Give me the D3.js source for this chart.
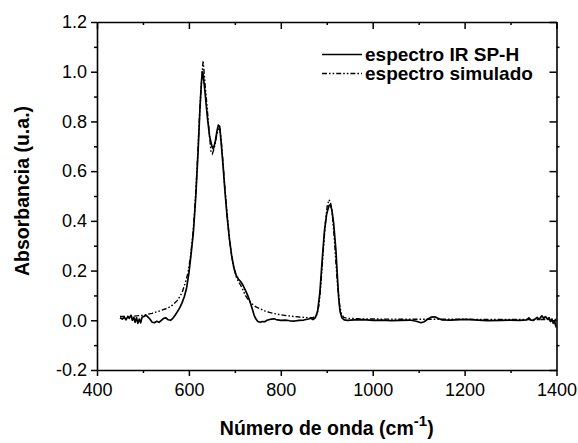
<!DOCTYPE html>
<html>
  <head>
    <meta charset="utf-8">
    <title>Espectro IR SP-H</title>
    <script src="https://cdn.jsdelivr.net/npm/d3@7"></script>
    <style type="text/css">
        body { margin: 0; background: #fff; }
        svg { display: block; font-family: "Liberation Sans", Arial, sans-serif; }
        .tick-label { font-size: 18px; fill: #000; font-family: "Liberation Sans", Arial, sans-serif; }
        .title { font-size: 19.5px; font-weight: bold; fill: #000; }
        .legend { font-size: 19px; font-weight: bold; fill: #000; }
    </style>
  </head>
  <body>
    <div id="viz"></div>
    <script type="text/javascript">
        var irWave = [450,455,460,463,467,470,474,477,480,483,486,489,492,495,498,502,506,510,515,520,
            525,530,535,540,545,550,555,560,565,570,575,580,585,590,595,600,605,610,615,620,
            624,627,629,631,635,640,645,650,653,657,661,664,667,670,674,678,683,688,693,698,
            703,708,713,718,723,728,733,738,742,746,750,755,760,765,770,780,785,790,800,810,
            820,830,840,850,860,865,870,875,880,885,890,895,900,905,908,911,915,920,923,926,
            929,933,938,945,960,980,1000,1020,1040,1060,1080,1095,1105,1112,1120,1128,1135,1142,1150,1170,
            1200,1220,1250,1280,1300,1320,1335,1340,1343,1350,1358,1362,1368,1372,1376,1380,1384,1387,1390,1393,
            1396,1398,1400];
        var irAbs = [0.01,0.005,0.012,0.002,0.015,0.008,0.02,0.0,0.012,-0.008,0.01,-0.012,0.005,-0.01,0.012,0.015,0.02,0.015,0.005,-0.008,
            -0.01,-0.004,-0.008,0.0,0.008,0.01,0.002,0.0,0.008,0.02,0.035,0.05,0.07,0.095,0.13,0.19,0.27,0.36,0.5,0.68,
            0.85,0.95,1.0,0.99,0.92,0.82,0.74,0.70,0.69,0.715,0.76,0.785,0.78,0.72,0.63,0.53,0.42,0.33,0.26,0.21,
            0.18,0.165,0.155,0.14,0.12,0.1,0.075,0.045,0.02,0.005,-0.005,-0.008,-0.005,-0.006,0.0,0.005,0.006,0.003,0.0,0.001,
            -0.002,-0.003,0.0,0.001,0.005,0.008,0.003,0.01,0.035,0.11,0.24,0.36,0.43,0.462,0.465,0.445,0.39,0.28,0.18,0.09,
            0.035,0.01,0.002,0.0,0.002,0.003,0.0,0.001,-0.001,0.0,0.001,-0.004,-0.01,-0.006,0.005,0.013,0.014,0.008,0.002,0.001,
            0.004,0.002,-0.001,0.0,0.001,0.0,0.002,0.01,0.002,0.0,0.012,0.003,0.018,0.008,0.015,0.005,0.01,-0.005,0.005,-0.012,
            -0.005,-0.02,-0.03];

        // simulated spectrum
        var simWave = [450,470,500,520,540,555,565,575,585,592,598,603,608,613,618,622,626,629,631,633,
            636,640,644,648,651,655,660,664,667,670,674,678,683,688,693,698,703,708,713,718,
            723,730,738,745,755,765,775,785,800,820,840,856,870,878,883,887,892,897,901,905,
            908,912,916,920,924,928,932,937,945,970,1000,1100,1200,1300,1400];
        var simAbs = [0.015,0.015,0.02,0.028,0.04,0.05,0.062,0.08,0.11,0.15,0.19,0.25,0.33,0.45,0.62,0.78,0.92,1.0,1.045,1.0,
            0.93,0.85,0.76,0.68,0.67,0.69,0.74,0.77,0.775,0.73,0.64,0.54,0.43,0.33,0.26,0.21,0.175,0.155,0.14,0.12,
            0.1,0.08,0.065,0.055,0.046,0.038,0.032,0.027,0.022,0.017,0.013,0.011,0.01,0.02,0.06,0.14,0.27,0.39,0.46,0.485,
            0.475,0.43,0.34,0.23,0.13,0.06,0.025,0.012,0.008,0.006,0.005,0.004,0.004,0.003,0.003];

        var xTicks = [400, 600, 800, 1000, 1200, 1400];
        var yTicks = [-0.2, 0.0, 0.2, 0.4, 0.6, 0.8, 1.0, 1.2];
        var seriesNames = ["espectro IR SP-H", "espectro simulado"];

        var width = 578, height = 443;
        var margin = {left: 97, top: 22, right: 578 - 556.5, bottom: 443 - 370};

        var svg = d3.select("#viz").append("svg")
            .attr("width", width)
            .attr("height", height);

        var x = d3.scaleLinear().domain([400, 1400]).range([margin.left, width - margin.right]);
        var y = d3.scaleLinear().domain([-0.2, 1.2]).range([height - margin.bottom, margin.top]);

        // minor ticks halfway between the labelled ones
        var xMinor = [500, 700, 900, 1100, 1300];
        var yMinor = [-0.1, 0.1, 0.3, 0.5, 0.7, 0.9, 1.1];

        function fmtY(d) { return d3.format(".1f")(d).replace("\u2212", "-"); }

        // left axis: ticks point outward
        var leftAxis = svg.append("g").attr("transform", "translate(" + x.range()[0] + ",0)");
        leftAxis.call(d3.axisLeft(y).tickValues(yTicks).tickSize(6).tickSizeOuter(0).tickPadding(4).tickFormat(fmtY));
        leftAxis.append("g").call(d3.axisLeft(y).tickValues(yMinor).tickSize(3).tickFormat(""));

        // bottom axis: ticks point outward
        var bottomAxis = svg.append("g").attr("transform", "translate(0," + y.range()[0] + ")");
        bottomAxis.call(d3.axisBottom(x).tickValues(xTicks).tickSize(6).tickSizeOuter(0).tickPadding(7).tickFormat(d3.format("d")));
        bottomAxis.append("g").call(d3.axisBottom(x).tickValues(xMinor).tickSize(3).tickFormat(""));

        // top axis: ticks point inward, no labels
        var topAxis = svg.append("g").attr("transform", "translate(0," + y.range()[1] + ")");
        topAxis.call(d3.axisBottom(x).tickValues(xTicks).tickSize(7).tickSizeOuter(0).tickFormat(""));
        topAxis.append("g").call(d3.axisBottom(x).tickValues(xMinor).tickSize(3).tickFormat(""));

        // right axis: major inward, minor outward
        var rightAxis = svg.append("g").attr("transform", "translate(" + x.range()[1] + ",0)");
        rightAxis.call(d3.axisLeft(y).tickValues(yTicks).tickSize(7).tickSizeOuter(0).tickFormat(""));
        rightAxis.append("g").call(d3.axisRight(y).tickValues(yMinor).tickSize(3).tickFormat(""));

        // the minor tick groups don't need their own domain line
        svg.selectAll("g g .domain").remove();

        // style all axes like the original plot
        svg.selectAll(".domain").attr("stroke", "#000").attr("stroke-width", 1.6);
        svg.selectAll(".tick line").attr("stroke", "#000").attr("stroke-width", 1.5);
        svg.selectAll(".tick text").attr("class", "tick-label");

        // clip the spectra to the plot frame
        svg.append("clipPath").attr("id", "plotClip").append("rect")
            .attr("x", x.range()[0]).attr("y", y.range()[1])
            .attr("width", x.range()[1] - x.range()[0])
            .attr("height", y.range()[0] - y.range()[1]);

        var line = d3.line()
            .x(function(d) { return x(d[0]); })
            .y(function(d) { return y(d[1]); });

        var irData = d3.zip(irWave, irAbs);
        var simData = d3.zip(simWave, simAbs);
        var dashStyle = "5,2,1.6,2,1.6,2";

        var plot = svg.append("g").attr("clip-path", "url(#plotClip)");
        plot.append("path")
            .datum(simData)
            .attr("d", line)
            .attr("fill", "none")
            .attr("stroke", "#000")
            .attr("stroke-width", 1.4)
            .attr("stroke-dasharray", dashStyle);
        plot.append("path")
            .datum(irData)
            .attr("d", line)
            .attr("fill", "none")
            .attr("stroke", "#000")
            .attr("stroke-width", 1.7)
            .attr("stroke-linejoin", "round");

        // legend
        var legend = svg.append("g");
        seriesNames.forEach(function(name, i) {
            var ly = 54.5 + i * 19;
            legend.append("line")
                .attr("x1", 322).attr("x2", 362)
                .attr("y1", ly).attr("y2", ly)
                .attr("stroke", "#000")
                .attr("stroke-width", i == 0 ? 1.7 : 1.4)
                .attr("stroke-dasharray", i == 0 ? null : dashStyle);
            legend.append("text")
                .attr("class", "legend")
                .attr("x", 365)
                .attr("y", ly + 6.5)
                .text(name);
        });

        // axis titles
        svg.append("text")
            .attr("class", "title")
            .attr("transform", "translate(29,191) rotate(-90)")
            .attr("text-anchor", "middle")
            .text("Absorbancia (u.a.)");

        var xt = svg.append("text")
            .attr("class", "title")
            .attr("x", (x.range()[0] + x.range()[1]) / 2)
            .attr("y", 435)
            .attr("text-anchor", "middle");
        xt.append("tspan").text("Número de onda (cm");
        xt.append("tspan").attr("dy", -9).attr("font-size", "15px").text("-1");
        xt.append("tspan").attr("dy", 9).text(")");
    </script>
  </body>
</html>
